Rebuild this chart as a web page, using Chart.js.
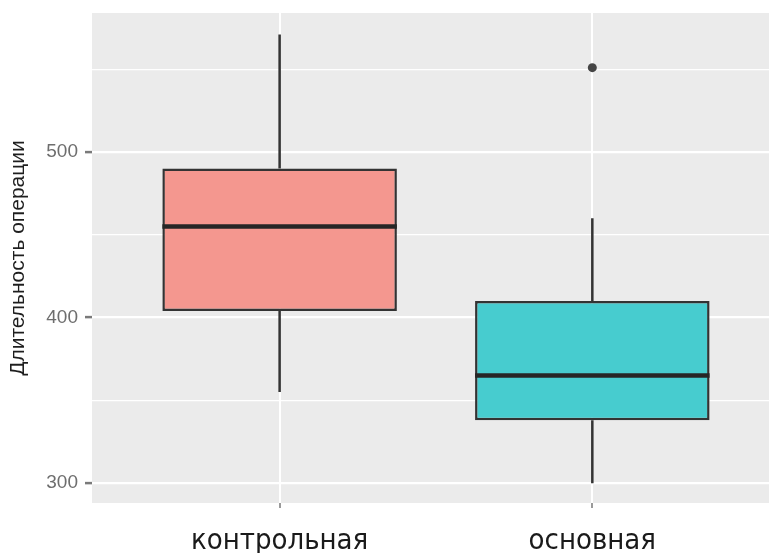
<!DOCTYPE html>
<html>
<head>
<meta charset="utf-8">
<script src="https://cdn.jsdelivr.net/npm/chart.js@4.4.1/dist/chart.umd.min.js"></script>
<style>
  html, body { margin: 0; padding: 0; background: #ffffff; overflow: hidden; }
  #wrap { width: 769px; height: 553px; position: relative; overflow: hidden; }
  #c { display: block; }
</style>
</head>
<body>
<div id="wrap"><canvas id="c" width="769" height="553"></canvas></div>
<script>
// ---- data ----
const categories = ['контрольная', 'основная'];
const whiskerLow = [355, 300];
const q1 = [404, 338];
const median = [455, 365];
const q3 = [490, 410];
const whiskerHigh = [571, 460];
const outlierGroup = [2];      // category position (1-based)
const outlierValue = [551];
const yMajorTicks = [300, 400, 500];
const yMinorTicks = [350, 450, 550];
const yTitle = 'Длительность операции';

const fillColors = ['#F4978F', '#47CCCF'];

// let the plotting panel run to the right edge of the canvas (as in the cropped reference)
const fullWidthPlugin = {
  id: 'fullwidth',
  afterLayout(chart) {
    const a = chart.chartArea;
    if (a.right < chart.width) {
      a.right = chart.width;
      a.width = a.right - a.left;
      const xs = chart.scales.x;
      xs.right = chart.width;
      xs.width = xs.right - xs.left;
      xs.configure();
    }
  }
};

const panelPlugin = {
  id: 'panel',
  beforeDraw(chart) {
    const { ctx, chartArea: a } = chart;
    ctx.save();
    ctx.fillStyle = '#EBEBEB';
    ctx.fillRect(a.left, a.top, a.right - a.left, a.bottom - a.top);
    ctx.restore();
  }
};

const boxPlugin = {
  id: 'boxparts',
  beforeDatasetsDraw(chart) {
    const { ctx } = chart;
    const xs = chart.scales.x, ys = chart.scales.y;
    ctx.save();
    ctx.strokeStyle = '#333333';
    ctx.lineWidth = 2.5;
    categories.forEach((c, i) => {
      const x = xs.getPixelForValue(i + 1);
      ctx.beginPath();
      ctx.moveTo(x, ys.getPixelForValue(whiskerHigh[i]));
      ctx.lineTo(x, ys.getPixelForValue(q3[i]));
      ctx.moveTo(x, ys.getPixelForValue(q1[i]));
      ctx.lineTo(x, ys.getPixelForValue(whiskerLow[i]));
      ctx.stroke();
    });
    ctx.restore();
  },
  afterDatasetsDraw(chart) {
    const { ctx } = chart;
    const ys = chart.scales.y;
    const meta = chart.getDatasetMeta(0);
    ctx.save();
    ctx.strokeStyle = '#262626';
    ctx.lineWidth = 4.5;
    meta.data.forEach((bar, i) => {
      const half = bar.width / 2;
      const y = ys.getPixelForValue(median[i]);
      ctx.beginPath();
      ctx.moveTo(bar.x - half, y);
      ctx.lineTo(bar.x + half, y);
      ctx.stroke();
    });
    ctx.restore();
  }
};

new Chart(document.getElementById('c'), {
  type: 'bar',
  data: {
    datasets: [
      {
        type: 'bar',
        data: categories.map((c, i) => ({ x: i + 1, y: [q1[i], q3[i]] })),
        backgroundColor: fillColors,
        borderColor: '#333333',
        borderWidth: 2.5,
        borderSkipped: false,
        categoryPercentage: 1,
        barPercentage: 0.75
      },
      {
        type: 'scatter',
        data: outlierValue.map((v, i) => ({ x: outlierGroup[i], y: v })),
        backgroundColor: '#454545',
        borderWidth: 0,
        pointRadius: 4.5
      }
    ]
  },
  options: {
    responsive: false,
    animation: false,
    layout: { padding: { top: 13, right: 0, left: 0, bottom: 0 } },
    plugins: { legend: { display: false }, tooltip: { enabled: false } },
    scales: {
      x: {
        type: 'linear',
        min: 0.4,
        max: 2.565,
        offset: false,
        afterBuildTicks(scale) { scale.ticks = categories.map((c, i) => ({ value: i + 1 })); },
        afterFit(scale) {
          scale.height = 50;
          scale.paddingLeft = 0; scale.paddingRight = 0;
          scale.paddingTop = 0; scale.paddingBottom = 0;
        },
        border: { display: false },
        grid: { offset: false, color: '#ffffff', lineWidth: 2, tickColor: '#9a9a9a', tickLength: 5, tickWidth: 2 },
        ticks: {
          callback: (v) => categories[Math.round(v) - 1],
          color: '#1a1a1a',
          font: { family: "'DejaVu Sans Condensed', 'Open Sans', sans-serif", size: 29 },
          padding: 16,
          maxRotation: 0,
          autoSkip: false
        }
      },
      y: {
        type: 'linear',
        min: 288,
        max: 584,
        afterBuildTicks(scale) {
          scale.ticks = [...yMajorTicks, ...yMinorTicks].sort((a, b) => a - b).map(v => ({ value: v }));
        },
        afterFit(scale) {
          scale.width = 92;
          scale.paddingTop = 0; scale.paddingBottom = 0;
          scale.paddingLeft = 0; scale.paddingRight = 0;
        },
        border: { display: false },
        grid: {
          color: '#ffffff',
          lineWidth: (ctx) => (ctx.tick && yMajorTicks.includes(ctx.tick.value) ? 2.2 : 1.2),
          tickColor: (ctx) => (ctx.tick && yMajorTicks.includes(ctx.tick.value) ? '#7a7a7a' : 'rgba(0,0,0,0)'),
          tickLength: 7,
          tickWidth: 2.5
        },
        ticks: {
          callback: (v) => (yMajorTicks.includes(v) ? String(v) : ''),
          color: '#6e6e6e',
          font: { family: 'Liberation Sans', size: 19 },
          padding: 7,
          autoSkip: false
        },
        title: {
          display: true,
          text: yTitle,
          color: '#1e1e1e',
          font: { family: 'Liberation Sans', size: 21 },
          padding: { top: 6, bottom: 0 }
        }
      }
    }
  },
  plugins: [fullWidthPlugin, panelPlugin, boxPlugin]
});
</script>
</body>
</html>
